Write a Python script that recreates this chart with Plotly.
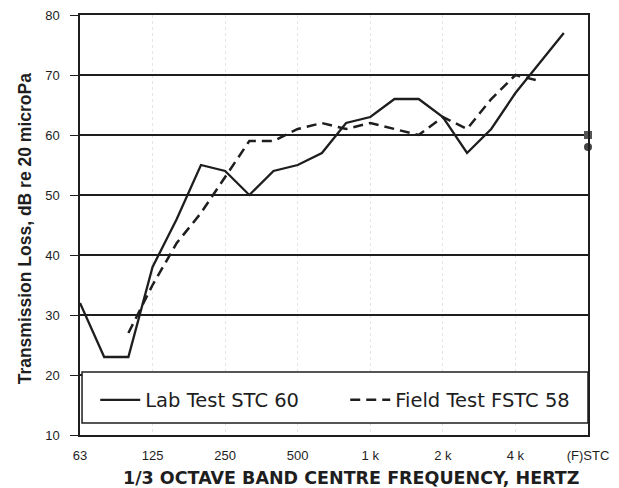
import plotly.graph_objects as go

bands = ["63", "80", "100", "125", "160", "200", "250", "315", "400", "500",
         "630", "800", "1k", "1.25k", "1.6k", "2k", "2.5k", "3.15k", "4k",
         "5k", "6.3k", "(F)STC"]

lab_bands = bands[0:21]
lab_tl = [32, 23, 23, 38, 46, 55, 54, 50, 54, 55, 57, 62, 63, 66, 66, 63, 57, 61, 67, 72, 77]

field_bands = bands[2:20]
field_tl = [27, 35, 42, 47, 53, 59, 59, 61, 62, 61, 62, 61, 60, 63, 61, 66, 70, 69]

stc_label = ["(F)STC"]
lab_stc = [60]
field_fstc = [58]

tick_vals = ["63", "125", "250", "500", "1k", "2k", "4k", "(F)STC"]
tick_text = ["63", "125", "250", "500", "1 k", "2 k", "4 k", "(F)STC"]
y_ticks = [10, 20, 30, 40, 50, 60, 70, 80]

INK = "#1e1e1e"
FONT = "Liberation Sans, Arial, sans-serif"

fig = go.Figure()
fig.add_trace(go.Scatter(x=lab_bands, y=lab_tl, mode="lines", name="Lab Test STC 60",
                         line=dict(color=INK, width=2.3), cliponaxis=False))
fig.add_trace(go.Scatter(x=field_bands, y=field_tl, mode="lines", name="Field Test FSTC 58",
                         line=dict(color=INK, width=2.5, dash="10px,6px"), cliponaxis=False))
fig.add_trace(go.Scatter(x=stc_label, y=lab_stc, mode="markers", showlegend=False,
                         marker=dict(symbol="square", size=8, color="#555555"), cliponaxis=False))
fig.add_trace(go.Scatter(x=stc_label, y=field_fstc, mode="markers", showlegend=False,
                         marker=dict(symbol="circle", size=8, color="#444444"), cliponaxis=False))

# legend frame
fig.add_shape(type="rect", xref="paper", yref="y", x0=0.004, x1=1, y0=12, y1=20.5,
              line=dict(color=INK, width=1.5), fillcolor="white", layer="above")

fig.update_layout(
    width=619, height=488,
    margin=dict(l=80, r=31, t=15, b=53, autoexpand=False),
    paper_bgcolor="white", plot_bgcolor="white",
    font=dict(family=FONT, color=INK, size=13),
    showlegend=True,
    legend=dict(orientation="h", x=0.03, y=0.083, xanchor="left", yanchor="middle",
                bgcolor="rgba(0,0,0,0)", font=dict(size=19.5, family="DejaVu Sans", color=INK),
                entrywidth=195, itemwidth=40, tracegroupgap=0),
    xaxis=dict(type="category", categoryorder="array", categoryarray=bands,
               range=[0, 21], tickvals=tick_vals, ticktext=tick_text, automargin=False,
               showgrid=True, gridcolor="rgba(0,0,0,0.10)", griddash="dot", gridwidth=1,
               showline=True, linecolor=INK, linewidth=1.5, mirror=True,
               ticks="", tickfont=dict(size=13, color=INK), zeroline=False,
               ticklabelstandoff=8),
    yaxis=dict(range=[10, 80], tickvals=y_ticks, showgrid=True, gridcolor=INK, gridwidth=1.5,
               showline=True, linecolor=INK, linewidth=1.5, mirror=True, automargin=False,
               ticks="outside", ticklen=8, tickcolor=INK, tickfont=dict(size=13, color=INK),
               zeroline=False, ticklabelstandoff=8),
    annotations=[
        dict(text="<b>Transmission Loss, dB re 20 microPa</b>", xref="paper", yref="paper",
             x=-0.108, y=0.49, xanchor="center", yanchor="middle", textangle=-90,
             showarrow=False, font=dict(size=17.5, color=INK, family=FONT)),
        dict(text="<b>1/3 OCTAVE BAND CENTRE FREQUENCY, HERTZ</b>", xref="paper", yref="paper",
             x=0.5335, y=-0.103, xanchor="center", yanchor="middle",
             showarrow=False, font=dict(size=17.5, color=INK, family="DejaVu Sans")),
    ],
)

fig.write_html("out.html", config={"displayModeBar": False},
               post_script="document.body.style.margin='0';")
